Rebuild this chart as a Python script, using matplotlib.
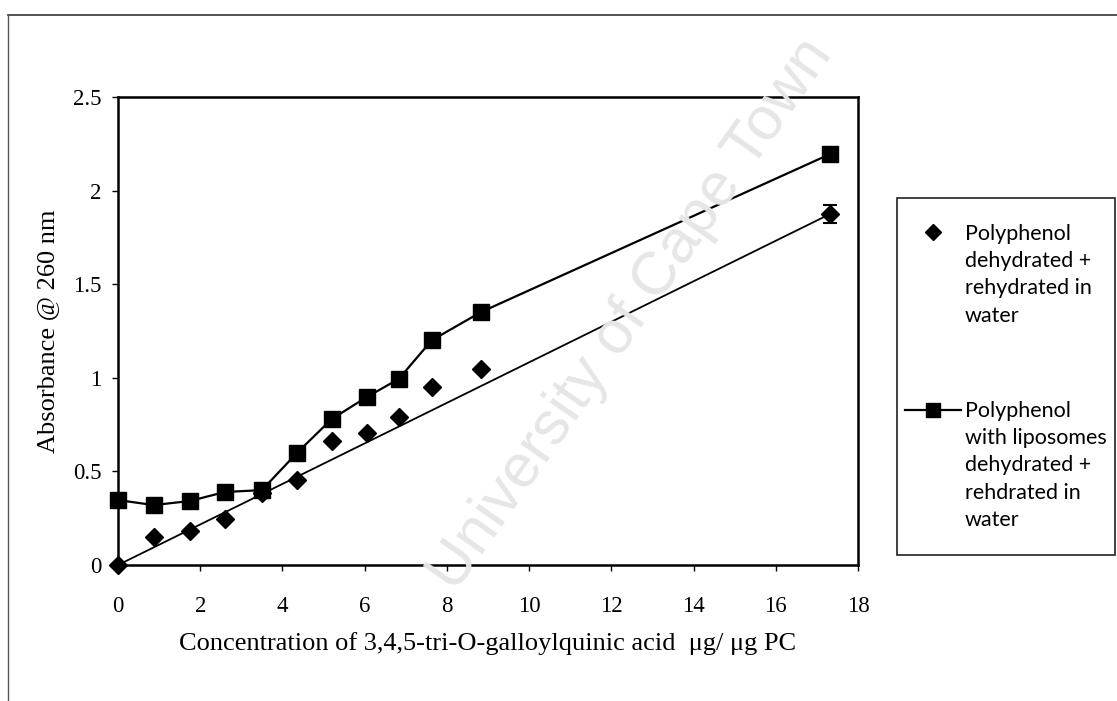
import numpy as np
import matplotlib.pyplot as plt
from matplotlib.lines import Line2D
from matplotlib.patches import Rectangle

# values
conc = [0, 0.87, 1.75, 2.6, 3.5, 4.35, 5.2, 6.05, 6.83, 7.63, 8.82, 17.32]
abs_water = [0, 0.15, 0.18, 0.245, 0.385, 0.455, 0.66, 0.705, 0.79, 0.95, 1.045, 1.875]
err_water = [0, 0, 0, 0, 0, 0, 0, 0, 0, 0, 0, 0.05]
abs_lipo = [0.347, 0.32, 0.342, 0.39, 0.40, 0.598, 0.78, 0.897, 0.994, 1.2, 1.35, 2.195]

label_water = 'Polyphenol\ndehydrated +\nrehydrated in\nwater'
label_lipo = 'Polyphenol\nwith liposomes\ndehydrated +\nrehdrated in\nwater'

W, H = 1117, 701
fig = plt.figure(figsize=(W / 100, H / 100), dpi=100)

def fx(px):
    return px / W

def fy(py):
    return 1 - py / H

# scan watermark
fig.text(fx(455), fy(594), 'University of Cape Town', rotation=55, rotation_mode='anchor',
         ha='left', va='baseline', fontsize=44, color='#e6e6e6', family='Liberation Sans', zorder=0)

ax = fig.add_axes([fx(118), fy(565), fx(858) - fx(118), fy(97) - fy(565)])
ax.patch.set_alpha(0)

ax.errorbar(conc, abs_water, yerr=err_water, fmt='D', color='black', markersize=9.5,
            capsize=5, elinewidth=1.2, capthick=1.5, zorder=3, clip_on=False)
# straight line through the end points of the water series
ax.plot([conc[0], conc[-1]], [abs_water[0], abs_water[-1]], color='black', lw=1.3, zorder=2)
ax.plot(conc, abs_lipo, '-s', color='black', lw=1.6, markersize=11.5, zorder=3, clip_on=False)

ax.set_xlim(0, 18)
ax.set_ylim(0, 2.5)
ax.set_xticks(np.arange(0, 19, 2))
ax.set_yticks([0, 0.5, 1, 1.5, 2, 2.5])
ax.set_yticklabels(['0', '0.5', '1', '1.5', '2', '2.5'])
for s in ax.spines.values():
    s.set_linewidth(1.8)
ax.tick_params(direction='out', length=4, width=1, labelsize=16.5)
ax.tick_params(axis='x', pad=18)
ax.tick_params(axis='y', pad=8)
for t in ax.get_xticklabels() + ax.get_yticklabels():
    t.set_family('Liberation Serif')

ax.set_xlabel('Concentration of 3,4,5-tri-O-galloylquinic acid  \u03bcg/ \u03bcg PC',
              family='Liberation Serif', fontsize=19, labelpad=11)
ax.set_ylabel('Absorbance @ 260 nm', family='Liberation Serif', fontsize=19, labelpad=10)

# outer frame of the scanned page
fig.add_artist(Line2D([fx(8), fx(1117)], [fy(15), fy(15)], color='#333333', lw=1.2))
fig.add_artist(Line2D([fx(8), fx(8)], [fy(15), fy(701)], color='#555555', lw=1.0))

# legend box drawn by hand
fig.add_artist(Rectangle((fx(897), fy(555)), fx(1115) - fx(897), fy(198) - fy(555),
                         transform=fig.transFigure, fill=False, edgecolor='#222222', lw=1.2))
fig.add_artist(Line2D([fx(933)], [fy(232)], marker='D', markersize=8.5, color='black'))
fig.add_artist(Line2D([fx(905), fx(961)], [fy(410), fy(410)], color='black', lw=1.6))
fig.add_artist(Line2D([fx(933)], [fy(410)], marker='s', markersize=10.5, color='black'))
fig.text(fx(965), fy(224), label_water, ha='left', va='top', fontsize=15.5,
         family='Lato', linespacing=1.45)
fig.text(fx(965), fy(401), label_lipo, ha='left', va='top', fontsize=15.5,
         family='Lato', linespacing=1.45)

fig.savefig('out.png', dpi=100)
